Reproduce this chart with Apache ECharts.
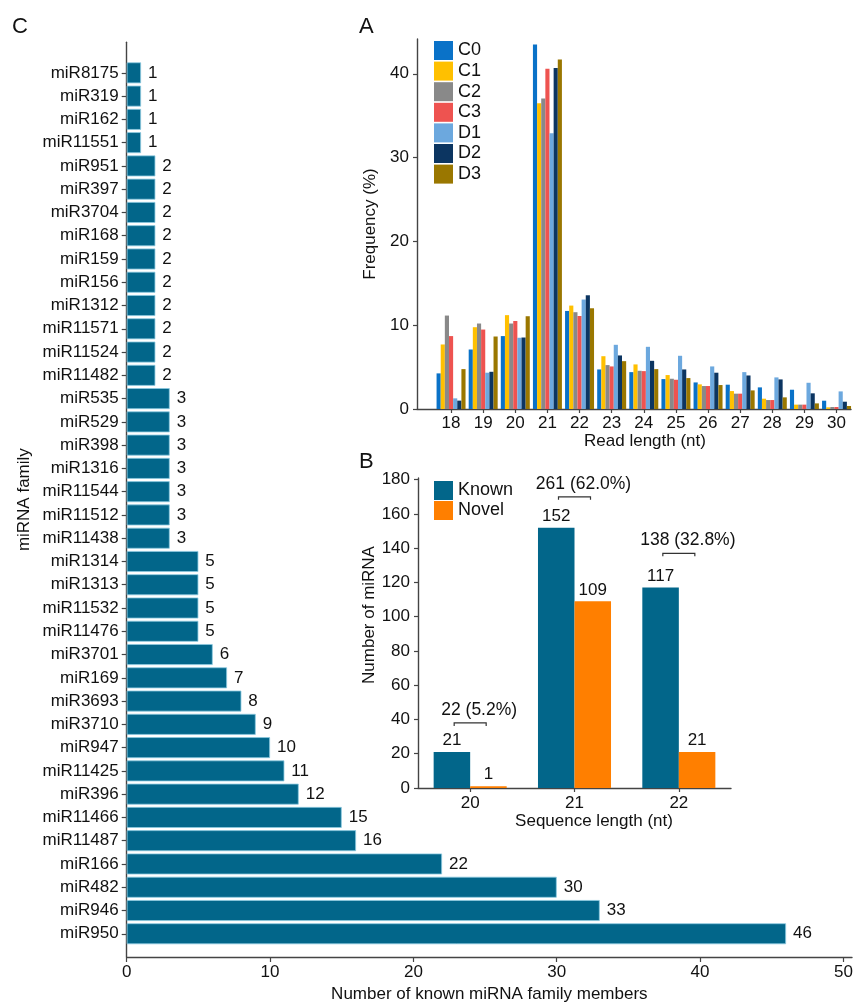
<!DOCTYPE html>
<html>
<head>
<meta charset="utf-8">
<script src="https://cdn.jsdelivr.net/npm/echarts@6/dist/echarts.min.js"></script>
<style>html,body{margin:0;padding:0;background:#fff}#container{width:854px;height:1003px}</style>
</head>
<body>
<div id="container"></div>
<script>
// panel C: miRNA families (top to bottom)
var famNames = ['miR8175','miR319','miR162','miR11551','miR951','miR397','miR3704','miR168','miR159','miR156',
	'miR1312','miR11571','miR11524','miR11482','miR535','miR529','miR398','miR1316','miR11544','miR11512',
	'miR11438','miR1314','miR1313','miR11532','miR11476','miR3701','miR169','miR3693','miR3710','miR947',
	'miR11425','miR396','miR11466','miR11487','miR166','miR482','miR946','miR950'];
var famCounts = [1,1,1,1,2,2,2,2,2,2,2,2,2,2,3,3,3,3,3,3,3,5,5,5,5,6,7,8,9,10,11,12,15,16,22,30,33,46];
var famTicks = [0,10,20,30,40,50];

// panel A: read length distribution (%)
var readLen = [18,19,20,21,22,23,24,25,26,27,28,29,30];
var sampleNames = ['C0','C1','C2','C3','D1','D2','D3'];
var freqC0 = [4.25,7.1,8.7,43.5,11.7,4.72,4.4,3.57,3.17,2.9,2.58,2.3,0.99];
var freqC1 = [7.7,9.76,11.2,36.47,12.34,6.3,5.32,4.05,2.94,2.14,1.23,0.52,0.2];
var freqC2 = [11.15,10.2,10.2,37.06,11.55,5.24,4.56,3.61,2.74,1.83,1.07,0.52,0.24];
var freqC3 = [8.7,9.48,10.5,40.6,11.1,5.08,4.52,3.49,2.74,1.83,1.07,0.52,0.24];
var freqD1 = [1.27,4.33,8.5,32.9,13.06,7.66,7.42,6.35,5.08,4.4,3.77,3.13,2.1];
var freqD2 = [1.0,4.44,8.53,40.7,13.57,6.39,5.75,4.72,4.33,4.0,3.53,1.87,0.87];
var freqD3 = [4.76,8.65,11.07,41.7,12.02,5.71,4.76,3.69,2.86,2.22,1.39,0.67,0.36];
var freqTicks = [0,10,20,30,40];

// panel B: known / novel miRNA by length
var seqLen = ['20','21','22'];
var knownCounts = [21,152,117];
var novelCounts = [1,109,21];
var totalLabels = ['22 (5.2%)','261 (62.0%)','138 (32.8%)'];
var bracketY = [38,170,137];
var numTicks = [0,20,40,60,80,100,120,140,160,180];

var FONT = 'Liberation Sans';
var sampleColors = ['#0A72C8','#FFC000','#898989','#EE5350','#6CA8DE','#0C3561','#9A7700'];
var freqAll = [freqC0,freqC1,freqC2,freqC3,freqD1,freqD2,freqD3];

var myChart = echarts.init(document.getElementById('container'));

var series = [];
// C bars
series.push({
	name: 'family',
	type: 'bar',
	xAxisIndex: 0,
	yAxisIndex: 0,
	data: famCounts,
	barCategoryGap: '10%',
	itemStyle: {color: '#02668A', borderColor: '#8cc9e0', borderWidth: 0.8},
	label: {show: true, position: 'right', distance: 7, fontSize: 17, color: '#111', fontFamily: FONT},
	silent: true
});
// A bars, one series per sample
for (var s = 0; s < sampleNames.length; s++) {
	series.push({
		name: sampleNames[s],
		type: 'bar',
		xAxisIndex: 2,
		yAxisIndex: 2,
		barWidth: 4.14,
		barGap: '0%',
		itemStyle: {color: sampleColors[s]},
		data: readLen.map(function (x, i) { return [x, freqAll[s][i]]; }),
		silent: true
	});
}
// B bars
series.push({
	name: 'Known', type: 'bar', xAxisIndex: 3, yAxisIndex: 3,
	barWidth: '35%', barGap: '0%',
	itemStyle: {color: '#02668A'},
	label: {show: true, position: 'top', distance: 3, fontSize: 17, color: '#111', fontFamily: FONT},
	data: knownCounts, silent: true
});
series.push({
	name: 'Novel', type: 'bar', xAxisIndex: 3, yAxisIndex: 3,
	barWidth: '35%', barGap: '0%',
	itemStyle: {color: '#FF7F00'},
	label: {show: true, position: 'top', distance: 3, fontSize: 17, color: '#111', fontFamily: FONT},
	data: novelCounts, silent: true
});
// B brackets with totals
series.push({
	name: 'totals', type: 'custom', xAxisIndex: 3, yAxisIndex: 3,
	data: seqLen.map(function (c, i) { return [i, bracketY[i]]; }),
	silent: true,
	renderItem: function (params, api) {
		var p = api.coord([api.value(0), api.value(1)]);
		var h = 16;
		return {
			type: 'group',
			children: [
				{type: 'polyline', shape: {points: [[p[0]-h, p[1]+3], [p[0]-h, p[1]], [p[0]+h, p[1]], [p[0]+h, p[1]+3]]},
					style: {stroke: '#333', lineWidth: 1.2, fill: null}},
				{type: 'text', x: p[0] + 9, y: p[1] - 13,
					style: {text: totalLabels[params.dataIndex], fontSize: 17.5, fontFamily: FONT, fill: '#111', align: 'center', verticalAlign: 'middle'}}
			]
		};
	}
});

var axisLine = {show: true, lineStyle: {color: '#444', width: 1.4}};

myChart.setOption({
	animation: false,
	textStyle: {fontFamily: FONT},
	graphic: [
		{type: 'text', left: 12, top: 16, style: {text: 'C', fontSize: 22, fontFamily: FONT, fill: '#111'}},
		{type: 'text', left: 359, top: 16, style: {text: 'A', fontSize: 22, fontFamily: FONT, fill: '#111'}},
		{type: 'text', left: 359, top: 451, style: {text: 'B', fontSize: 22, fontFamily: FONT, fill: '#111'}}
	],
	legend: [
		{data: sampleNames, orient: 'vertical', left: 434, top: 41, padding: 0, icon: 'rect',
			itemWidth: 19, itemHeight: 19, itemGap: 1.6, selectedMode: false,
			textStyle: {fontSize: 18, color: '#111', fontFamily: FONT}},
		{data: ['Known','Novel'], orient: 'vertical', left: 434, top: 481, padding: 0, icon: 'rect',
			itemWidth: 19, itemHeight: 19, itemGap: 1, selectedMode: false,
			textStyle: {fontSize: 18, color: '#111', fontFamily: FONT}}
	],
	grid: [
		{left: 126.7, top: 61.2, width: 725.3, height: 884.2, outerBoundsMode: 'none'},
		{left: 126.7, top: 42.3, width: 725.3, height: 914.7, outerBoundsMode: 'none'},
		{left: 417, top: 39, width: 434, height: 370, outerBoundsMode: 'none'},
		{left: 418, top: 478, width: 313, height: 310, outerBoundsMode: 'none'}
	],
	xAxis: [
		{gridIndex: 0, type: 'value', min: 0, max: 50.6, show: false},
		{gridIndex: 1, type: 'value', min: 0, max: 50.6,
			axisLine: axisLine, axisTick: {show: true, length: 5, lineStyle: {color: '#444', width: 1.2}, customValues: famTicks},
			axisLabel: {fontSize: 17, color: '#111', fontFamily: FONT, margin: 7, customValues: famTicks},
			splitLine: {show: false},
			name: 'Number of known miRNA family members', nameLocation: 'middle', nameGap: 27,
			nameTextStyle: {fontSize: 17, color: '#111', fontFamily: FONT}},
		{gridIndex: 2, type: 'value', min: 16.94, max: 30.45,
			axisLine: axisLine, axisTick: {show: true, length: 4, lineStyle: {color: '#444', width: 1.2}, customValues: readLen},
			axisLabel: {fontSize: 17, color: '#111', fontFamily: FONT, margin: 6, customValues: readLen},
			splitLine: {show: false},
			name: 'Read length (nt)', nameLocation: 'middle', nameGap: 23,
			nameTextStyle: {fontSize: 17, color: '#111', fontFamily: FONT, padding: [0, 0, 0, 22]}},
		{gridIndex: 3, type: 'category', data: seqLen,
			axisLine: axisLine, axisTick: {show: true, length: 4, alignWithLabel: true, lineStyle: {color: '#444', width: 1.2}},
			axisLabel: {fontSize: 17, color: '#111', fontFamily: FONT, margin: 7},
			name: 'Sequence length (nt)', nameLocation: 'middle', nameGap: 23,
			nameTextStyle: {fontSize: 17, color: '#111', fontFamily: FONT, padding: [0, 0, 0, 39]}}
	],
	yAxis: [
		{gridIndex: 0, type: 'category', data: famNames, inverse: true,
			axisLine: {show: false},
			axisTick: {show: true, length: 5, alignWithLabel: true, lineStyle: {color: '#444', width: 1.2}},
			axisLabel: {fontSize: 17, color: '#111', fontFamily: FONT, margin: 8, interval: 0}},
		{gridIndex: 1, type: 'value', min: 0, max: 1,
			axisLine: axisLine, axisTick: {show: false}, axisLabel: {show: false}, splitLine: {show: false},
			name: 'miRNA family', nameLocation: 'middle', nameGap: 94,
			nameTextStyle: {fontSize: 17, color: '#111', fontFamily: FONT}},
		{gridIndex: 2, type: 'value', min: 0, max: 44.15,
			axisLine: axisLine, axisTick: {show: true, length: 4, lineStyle: {color: '#444', width: 1.2}, customValues: freqTicks},
			axisLabel: {fontSize: 17, color: '#111', fontFamily: FONT, margin: 8, customValues: freqTicks},
			splitLine: {show: false},
			name: 'Frequency (%)', nameLocation: 'middle', nameGap: 37,
			nameTextStyle: {fontSize: 17, color: '#111', fontFamily: FONT}},
		{gridIndex: 3, type: 'value', min: 0, max: 181,
			axisLine: axisLine, axisTick: {show: true, length: 4, lineStyle: {color: '#444', width: 1.2}, customValues: numTicks},
			axisLabel: {fontSize: 17, color: '#111', fontFamily: FONT, margin: 8, customValues: numTicks},
			splitLine: {show: false},
			name: 'Number of miRNA', nameLocation: 'middle', nameGap: 40,
			nameTextStyle: {fontSize: 17, color: '#111', fontFamily: FONT, padding: [0, 0, 0, 36]}}
	],
	series: series
});
</script>
</body>
</html>
